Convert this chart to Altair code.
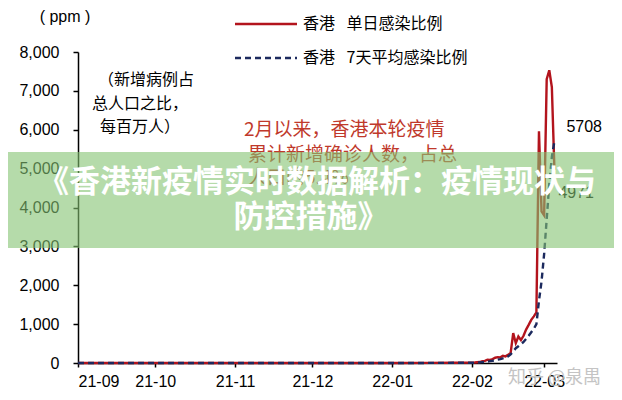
import altair as alt
import pandas as pd

# ---- data (ppm = cases per million population) ----
dates = [
    "2021-09-01", "2021-10-01", "2021-11-01", "2021-12-01", "2022-01-01",
    "2022-01-15", "2022-01-25",
    "2022-02-01", "2022-02-02", "2022-02-03", "2022-02-04", "2022-02-05",
    "2022-02-06", "2022-02-07", "2022-02-08", "2022-02-09", "2022-02-10",
    "2022-02-11", "2022-02-12", "2022-02-13", "2022-02-14", "2022-02-15",
    "2022-02-16", "2022-02-17", "2022-02-18", "2022-02-19", "2022-02-20",
    "2022-02-21", "2022-02-22", "2022-02-23", "2022-02-24", "2022-02-25",
    "2022-02-26", "2022-02-27", "2022-02-28", "2022-03-01", "2022-03-02",
    "2022-03-03", "2022-03-04", "2022-03-05",
]
daily = [
    0, 0, 0, 0, 1,
    3, 8,
    10, 14, 20, 25, 45,
    55, 85, 80, 100, 135,
    150, 145, 185, 170, 210,
    260, 770, 510, 680, 590,
    700, 860, 980, 1110, 1200,
    1300, 5960, 3900, 3800, 7300,
    7530, 7100, 4971,
]
avg7 = [
    0, 0, 0, 0, 1,
    2, 5,
    6, 8, 12, 16, 22,
    28, 38, 47, 58, 72,
    86, 100, 120, 140, 170,
    220, 300, 380, 430, 480,
    540, 620, 700, 790, 880,
    1000, 1600, 2100, 2800, 3700,
    4600, 5300, 5708,
]
month_ticks = [(2021, 9), (2021, 10), (2021, 11), (2021, 12), (2022, 1), (2022, 2), (2022, 3)]
y_ticks = [0, 1000, 2000, 3000, 4000, 5000, 6000, 7000, 8000]

legend_daily = "香港\u2002 单日感染比例"
legend_avg = "香港\u2002 7天平均感染比例"
note_black = ["（新增病例占", "总人口之比，", "每百万人）"]
note_red = ["2月以来，香港本轮疫情", "累计新增确诊人数，占总", "人口的5.4%"]
unit_text = "( ppm )"
banner_lines = ["《香港新疫情实时数据解析：疫情现状与", "防控措施》"]
watermark = "知乎 @泉禺"

RED = "#b3141d"
NAVY = "#1c2a5e"
RED_TEXT = "#c0392b"
SANS = "Liberation Sans"
CJK = "Noto Sans CJK SC"

df = pd.DataFrame({
    "date": [d + "T00:00:00" for d in dates],
    "daily": daily,
    "avg": avg7,
})
last = df.tail(1)
one = pd.DataFrame({"k": [0]})

x_axis = alt.Axis(
    title=None, format="%y-%m", grid=False,
    values=[alt.DateTime(year=y, month=m, date=1) for y, m in month_ticks],
    tickSize=4, labelPadding=6,
)
x_scale = alt.Scale(
    domain=[alt.DateTime(year=2021, month=9, date=1),
            alt.DateTime(year=2022, month=3, date=6)],
    nice=False,
)
y_axis = alt.Axis(title=None, values=y_ticks, format=",.0f", grid=False,
                  tickSize=5, labelPadding=14, labelOverlap=False)
y_scale = alt.Scale(domain=[0, 8000], nice=False)


def X():
    return alt.X("date:T", scale=x_scale, axis=x_axis)


def Y(field):
    return alt.Y(field, scale=y_scale, axis=y_axis)


base = alt.Chart(df)

red_line = base.mark_line(color=RED, strokeWidth=2.4).encode(x=X(), y=Y("daily:Q"))
avg_line = base.mark_line(color=NAVY, strokeWidth=2.4, strokeDash=[6, 4]).encode(
    x=X(), y=Y("avg:Q"))

lbl_avg = alt.Chart(last).mark_text(
    align="left", baseline="middle", dx=12, dy=-14, fontSize=16, font=SANS, color="black"
).encode(x=X(), y=Y("avg:Q"), text=alt.Text("avg:Q", format="d"))
lbl_daily = alt.Chart(last).mark_text(
    align="left", baseline="middle", dx=4, dy=23, fontSize=16, font=SANS, color="black"
).encode(x=X(), y=Y("daily:Q"), text=alt.Text("daily:Q", format="d"))


def txt(s, px, py, size=15, color="black", align="left", font=CJK, weight="normal"):
    return alt.Chart(one).mark_text(
        align=align, baseline="middle", fontSize=size, color=color, font=font, fontWeight=weight
    ).encode(x=alt.value(px), y=alt.value(py), text=alt.value(s))


def rule(py, dash=None, color=RED):
    kw = dict(color=color, strokeWidth=2.4)
    if dash:
        kw["strokeDash"] = dash
    return alt.Chart(one).mark_rule(**kw).encode(
        x=alt.value(157), x2=alt.value(219), y=alt.value(py))


layers = [
    red_line, avg_line, lbl_avg, lbl_daily,
    rule(-28), rule(6, [6, 4], NAVY),
    txt(legend_daily, 225, -28, 16),
    txt(legend_avg, 225, 6, 16),
    txt(unit_text, -13, -35, 16, align="center", font=SANS),
    txt(note_black[0], 68, 28, 16, align="center"),
    txt(note_black[1], 62, 52, 16, align="center"),
    txt(note_black[2], 62, 75, 16, align="center"),
    txt(note_red[0], 166, 78, 19, RED_TEXT),
    txt(note_red[1], 170, 103, 19, RED_TEXT),
    txt(note_red[2], 170, 126, 19, RED_TEXT),
    txt(watermark, 430, 326, 18, "#c4c4c4"),
    alt.Chart(one).mark_rect(color="#84c371", opacity=0.6).encode(
        x=alt.value(-70), x2=alt.value(540), y=alt.value(100), y2=alt.value(196)),
    txt(banner_lines[0], 239, 131, 31, "white", align="center", weight="bold"),
    txt(banner_lines[1], 233, 166, 31, "white", align="center", weight="bold"),
]

chart = alt.layer(*layers).properties(
    width=479, height=311,
    autosize=alt.AutoSizeParams(type="none"),
    padding={"left": 70, "top": 44, "right": 57, "bottom": 28},
).configure_view(stroke=None).configure_axis(
    domainColor="black", domainWidth=1.5, tickColor="black", tickWidth=1.5,
    labelColor="black", labelFontSize=16, labelFont=SANS,
)

chart.save("out.html", embed_options={"renderer": "svg", "actions": False})
